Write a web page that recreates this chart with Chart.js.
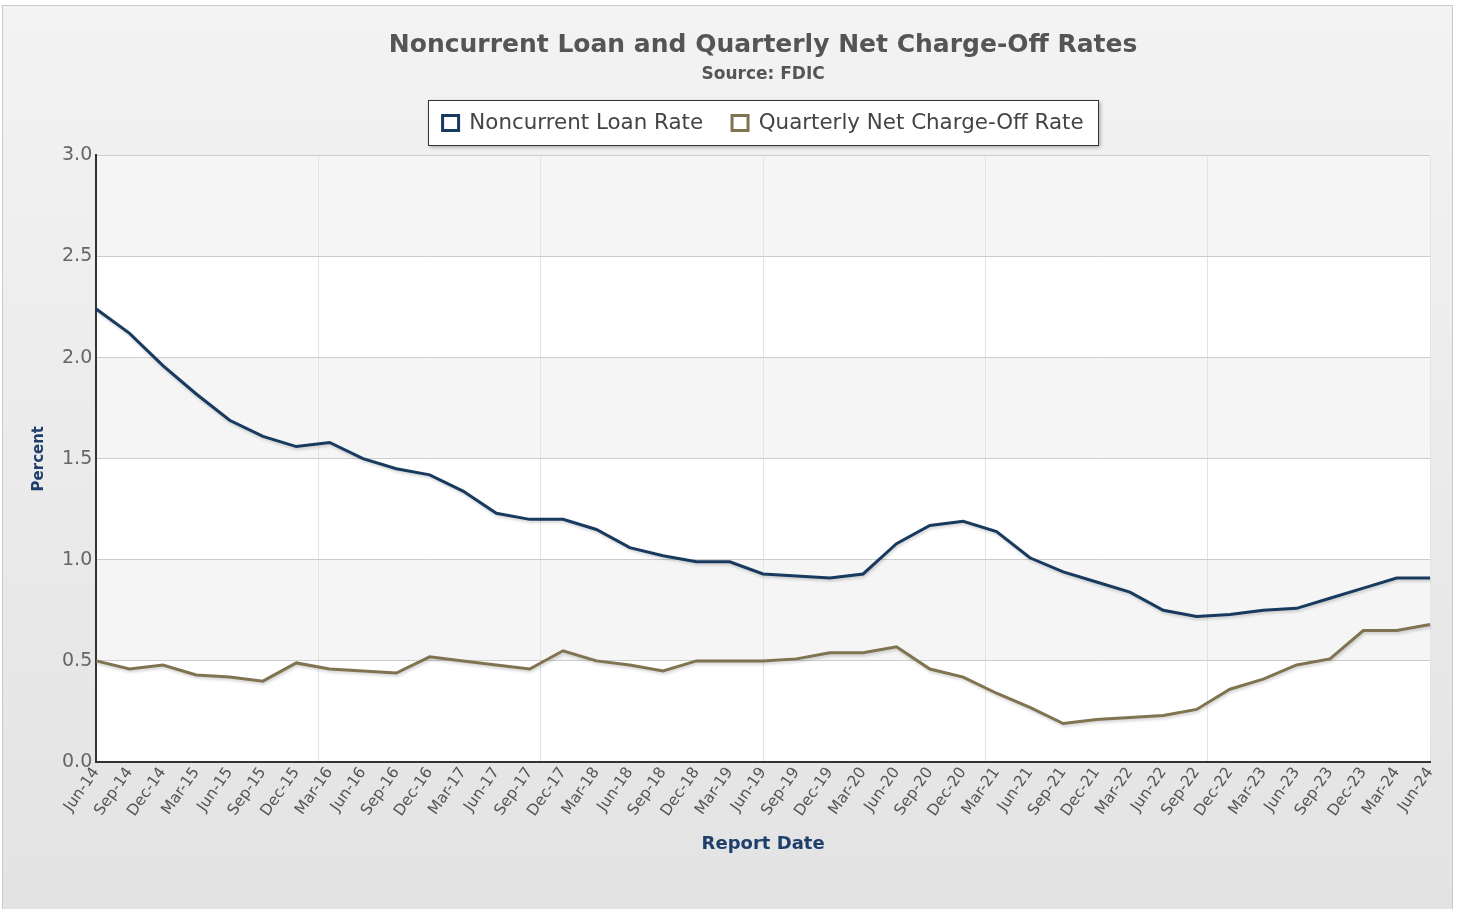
<!DOCTYPE html>
<html>
<head>
<meta charset="utf-8">
<script src="https://cdn.jsdelivr.net/npm/chart.js@4.4.0/dist/chart.umd.min.js"></script>
<style>
  html, body { margin: 0; padding: 0; background: #fff; }
  #wrap {
    position: absolute; left: 2px; top: 5px; width: 1449px; height: 903px;
    border: 1px solid #c9c9c9;
    background: linear-gradient(#f3f3f3, #e3e3e3);
  }
  #myChart { display: block; }
</style>
</head>
<body>
<div id="wrap"><canvas id="myChart" width="1449" height="903"></canvas></div>
<script>
const quarters = [
  'Jun-14','Sep-14','Dec-14','Mar-15','Jun-15','Sep-15','Dec-15','Mar-16','Jun-16','Sep-16','Dec-16',
  'Mar-17','Jun-17','Sep-17','Dec-17','Mar-18','Jun-18','Sep-18','Dec-18','Mar-19','Jun-19','Sep-19',
  'Dec-19','Mar-20','Jun-20','Sep-20','Dec-20','Mar-21','Jun-21','Sep-21','Dec-21','Mar-22','Jun-22',
  'Sep-22','Dec-22','Mar-23','Jun-23','Sep-23','Dec-23','Mar-24','Jun-24'
];

const noncurrentRate = [
  2.24, 2.12, 1.96, 1.82, 1.69, 1.61, 1.56, 1.58, 1.50, 1.45, 1.42,
  1.34, 1.23, 1.20, 1.20, 1.15, 1.06, 1.02, 0.99, 0.99, 0.93, 0.92,
  0.91, 0.93, 1.08, 1.17, 1.19, 1.14, 1.01, 0.94, 0.89, 0.84, 0.75,
  0.72, 0.73, 0.75, 0.76, 0.81, 0.86, 0.91, 0.91
];

const chargeOffRate = [
  0.50, 0.46, 0.48, 0.43, 0.42, 0.40, 0.49, 0.46, 0.45, 0.44, 0.52,
  0.50, 0.48, 0.46, 0.55, 0.50, 0.48, 0.45, 0.50, 0.50, 0.50, 0.51,
  0.54, 0.54, 0.57, 0.46, 0.42, 0.34, 0.27, 0.19, 0.21, 0.22, 0.23,
  0.26, 0.36, 0.41, 0.48, 0.51, 0.65, 0.65, 0.68
];

const yTicks = [0, 0.5, 1.0, 1.5, 2.0, 2.5, 3.0];

const FONT = 'Verdana, "DejaVu Sans", sans-serif';

// alternating bands + box round the legend
const decor = {
  id: 'decor',
  beforeInit(chart) {
    const lg = chart.legend;
    const fit = lg.fit;
    lg.fit = function () {
      fit.call(this);
      this.height = 55;
    };
    // wide gap between items needs a big padding, pull the row back up
    const draw = lg.draw;
    lg.draw = function () {
      const c = this.ctx;
      c.save();
      c.translate(0, -17);
      draw.call(this);
      c.restore();
    };
  },
  beforeDraw(chart) {
    const {ctx, chartArea, scales} = chart;
    const y = scales.y;
    ctx.save();
    ctx.fillStyle = '#ffffff';
    ctx.fillRect(chartArea.left, chartArea.top, chartArea.width, chartArea.height);
    ctx.fillStyle = '#f5f5f5';
    for (let i = 1; i < yTicks.length - 1; i += 2) {
      const top = y.getPixelForValue(yTicks[i + 1]);
      const bot = y.getPixelForValue(yTicks[i]);
      ctx.fillRect(chartArea.left, top, chartArea.width, bot - top);
    }
    const lg = chart.legend;
    if (lg) {
      const w = 670, h = 45;
      const x0 = Math.round((chartArea.left + chartArea.right) / 2 - w / 2);
      const y0 = Math.round(lg.top);
      ctx.shadowColor = 'rgba(0,0,0,0.35)';
      ctx.shadowBlur = 4;
      ctx.shadowOffsetX = 2;
      ctx.shadowOffsetY = 2;
      ctx.fillStyle = '#ffffff';
      ctx.fillRect(x0, y0, w, h);
      ctx.shadowColor = 'transparent';
      ctx.strokeStyle = '#333';
      ctx.lineWidth = 1;
      ctx.strokeRect(x0 + 0.5, y0 + 0.5, w, h);
    }
    ctx.restore();
  },
  beforeDatasetsDraw(chart) {
    const ctx = chart.ctx;
    ctx.save();
    ctx.shadowColor = 'rgba(0,0,0,0.18)';
    ctx.shadowBlur = 3;
    ctx.shadowOffsetX = 1;
    ctx.shadowOffsetY = 2;
  },
  afterDatasetsDraw(chart) {
    chart.ctx.restore();
  }
};

const ctx = document.getElementById('myChart');
const myChart = new Chart(ctx, {
  type: 'line',
  data: {
    labels: quarters,
    datasets: [{
      label: 'Noncurrent Loan Rate',
      data: noncurrentRate,
      borderColor: '#173a5e',
      backgroundColor: '#ffffff',
      borderWidth: 3,
      pointRadius: 0,
      tension: 0
    }, {
      label: 'Quarterly Net Charge-Off Rate',
      data: chargeOffRate,
      borderColor: '#7f7350',
      backgroundColor: '#ffffff',
      borderWidth: 3,
      pointRadius: 0,
      tension: 0
    }]
  },
  options: {
    responsive: false,
    animation: false,
    layout: { padding: { top: 24, right: 22, bottom: 50, left: 23 } },
    plugins: {
      title: {
        display: true,
        fullSize: false,
        text: 'Noncurrent Loan and Quarterly Net Charge-Off Rates',
        color: '#555555',
        font: { family: FONT, size: 25, weight: 'bold' },
        padding: { top: 0, bottom: 4 }
      },
      subtitle: {
        display: true,
        fullSize: false,
        text: 'Source: FDIC',
        color: '#555555',
        font: { family: FONT, size: 17, weight: 'bold' },
        padding: { top: 0, bottom: 16 }
      },
      legend: {
        position: 'top',
        fullSize: false,
        labels: {
          color: '#444444',
          font: { family: FONT, size: 21.4 },
          boxWidth: 16,
          boxHeight: 15,
          padding: 29
        }
      },
      tooltip: { enabled: false }
    },
    scales: {
      x: {
        type: 'category',
        offset: false,
        afterFit(scale) { scale.height = 97; },
        grid: { display: false, drawTicks: false },
        border: { display: true, color: '#333333', width: 2 },
        ticks: {
          autoSkip: false,
          maxRotation: 55,
          minRotation: 55,
          color: '#555555',
          font: { family: FONT, size: 15.5 },
          padding: 2
        },
        title: {
          display: true,
          text: 'Report Date',
          color: '#1f3f6b',
          font: { family: FONT, size: 18, weight: 'bold' },
          padding: { top: 4, bottom: 4 }
        }
      },
      xgrid: {
        type: 'linear',
        position: 'bottom',
        min: 0,
        max: 6,
        afterFit(scale) { scale.height = 0; },
        ticks: { display: false, stepSize: 1 },
        grid: { color: '#e3e3e3', lineWidth: 1, drawTicks: false },
        border: { display: false }
      },
      y: {
        min: 0,
        max: 3,
        afterBuildTicks(scale) { scale.ticks = yTicks.map(v => ({ value: v })); },
        grid: { color: '#cccccc', drawTicks: false },
        border: { display: true, color: '#333333', width: 2 },
        ticks: {
          color: '#666666',
          font: { family: FONT, size: 19 },
          padding: 4,
          callback: v => Number(v).toFixed(1)
        },
        title: {
          display: true,
          text: 'Percent',
          color: '#1f3f6b',
          font: { family: FONT, size: 15, weight: 'bold' },
          padding: { bottom: 10 }
        }
      }
    }
  },
  plugins: [decor]
});
</script>
</body>
</html>
